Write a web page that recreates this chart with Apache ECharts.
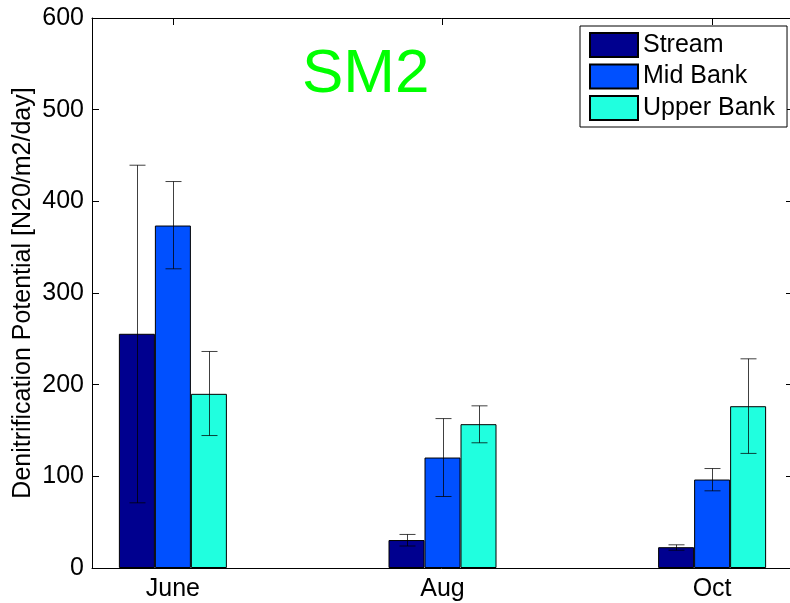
<!DOCTYPE html>
<html>
<head>
<meta charset="utf-8">
<script src="https://cdn.jsdelivr.net/npm/echarts@6/dist/echarts.min.js"></script>
<style>html,body{margin:0;padding:0;background:#fff;overflow:hidden;}#chart{width:790px;height:603px;}</style>
</head>
<body>
<div id="chart"></div>
<script>
const categories = ['June', 'Aug', 'Oct'];
const seriesNames = ['Stream', 'Mid Bank', 'Upper Bank'];
const streamValues = [255.5, 30.5, 22.7];
const midBankValues = [373.6, 120.5, 96.5];
const upperBankValues = [190.0, 156.9, 176.5];
const streamLow = [71.1, 24.0, 19.4];
const streamHigh = [439.4, 36.6, 25.3];
const midBankLow = [326.4, 78.0, 84.2];
const midBankHigh = [421.6, 163.0, 108.5];
const upperBankLow = [144.5, 136.6, 125.0];
const upperBankHigh = [236.2, 176.9, 228.2];
const yTicks = [0, 100, 200, 300, 400, 500, 600];

const colors = ['#00008F', '#0050FF', '#20FFDF'];
const FONT = 'Liberation Sans, Arial, Helvetica, sans-serif';
const BAR_W = 36;

const values = [streamValues, midBankValues, upperBankValues];
const lows = [streamLow, midBankLow, upperBankLow];
const highs = [streamHigh, midBankHigh, upperBankHigh];
const catPos = categories.map((c, i) => i + 1);

const barSeries = seriesNames.map((name, s) => ({
  name: name,
  type: 'bar',
  xAxisIndex: 0,
  yAxisIndex: 0,
  barWidth: BAR_W,
  barGap: '0%',
  itemStyle: { color: colors[s], borderColor: '#000', borderWidth: 1 },
  data: catPos.map((x, i) => [x, values[s][i]]),
  z: 2
}));

const errData = [];
seriesNames.forEach((n, s) => {
  catPos.forEach((x, i) => errData.push([x, lows[s][i], highs[s][i], s]));
});

const errSeries = {
  type: 'custom',
  name: 'err',
  xAxisIndex: 0,
  yAxisIndex: 0,
  z: 5,
  silent: true,
  encode: { x: 0, y: [1, 2] },
  data: errData,
  renderItem: function (params, api) {
    const x = api.value(0), lo = api.value(1), hi = api.value(2), s = api.value(3);
    const dx = (s - 1) * BAR_W;
    const pHi = api.coord([x, hi]);
    const pLo = api.coord([x, lo]);
    const cx = Math.round(pHi[0] + dx) + 0.5;
    const cap = 8;
    const st = { stroke: '#000', lineWidth: 1, opacity: 0.75 };
    return {
      type: 'group',
      children: [
        { type: 'line', shape: { x1: cx, y1: pHi[1], x2: cx, y2: pLo[1] }, style: st },
        { type: 'line', shape: { x1: cx - cap, y1: pHi[1], x2: cx + cap, y2: pHi[1] }, style: st },
        { type: 'line', shape: { x1: cx - cap, y1: pLo[1], x2: cx + cap, y2: pLo[1] }, style: st }
      ]
    };
  }
};

const chart = echarts.init(document.getElementById('chart'), null, { renderer: 'canvas' });
chart.setOption({
  animation: false,
  backgroundColor: '#fff',
  title: {
    text: 'SM2',
    left: 302,
    top: 44,
    padding: 0,
    textStyle: { fontSize: 62, color: '#00FF00', fontWeight: 'normal', fontFamily: FONT }
  },
  legend: {
    data: seriesNames,
    orient: 'vertical',
    left: 580,
    top: 26,
    padding: [6, 12, 6, 9],
    itemGap: 5.5,
    itemWidth: 48,
    itemHeight: 24,
    icon: 'rect',
    borderColor: '#000',
    borderWidth: 1,
    borderRadius: 0,
    backgroundColor: '#fff',
    textStyle: { fontSize: 25, color: '#000', fontFamily: FONT }
  },
  grid: { left: 92, width: 701, top: 18, height: 550, containLabel: false, outerBoundsMode: 'none' },
  xAxis: [
    {
      type: 'value', position: 'bottom', min: 0.7, max: 3.3,
      splitLine: { show: false },
      axisLine: { show: true, onZero: false, lineStyle: { color: '#000', width: 1 } },
      axisTick: { show: true, inside: true, length: 7, customValues: catPos, lineStyle: { color: '#000' } },
      axisLabel: {
        show: true, customValues: catPos, margin: 9,
        formatter: v => categories[Math.round(v) - 1] || '',
        fontSize: 25, color: '#000', fontFamily: FONT
      }
    },
    {
      type: 'value', position: 'top', min: 0.7, max: 3.3,
      splitLine: { show: false },
      axisLine: { show: true, onZero: false, lineStyle: { color: '#000', width: 1 } },
      axisTick: { show: true, inside: true, length: 7, customValues: catPos, lineStyle: { color: '#000' } },
      axisLabel: { show: false }
    }
  ],
  yAxis: [
    {
      type: 'value', position: 'left', min: yTicks[0], max: yTicks[yTicks.length - 1], interval: 100,
      splitLine: { show: false },
      axisLine: { show: true, onZero: false, lineStyle: { color: '#000', width: 1 } },
      axisTick: { show: true, inside: true, length: 7, lineStyle: { color: '#000' } },
      axisLabel: { margin: 8, fontSize: 25, color: '#000', fontFamily: FONT },
      name: 'Denitrification Potential [N20/m2/day]',
      nameLocation: 'middle',
      nameGap: 56,
      nameMoveOverlap: false,
      nameTextStyle: { fontSize: 25, color: '#000', fontFamily: FONT }
    },
    {
      type: 'value', position: 'right', min: yTicks[0], max: yTicks[yTicks.length - 1], interval: 100,
      splitLine: { show: false },
      axisLine: { show: true, onZero: false, lineStyle: { color: '#000', width: 1 } },
      axisTick: { show: true, inside: true, length: 7, lineStyle: { color: '#000' } },
      axisLabel: { show: false }
    }
  ],
  series: barSeries.concat([errSeries])
});
</script>
</body>
</html>
